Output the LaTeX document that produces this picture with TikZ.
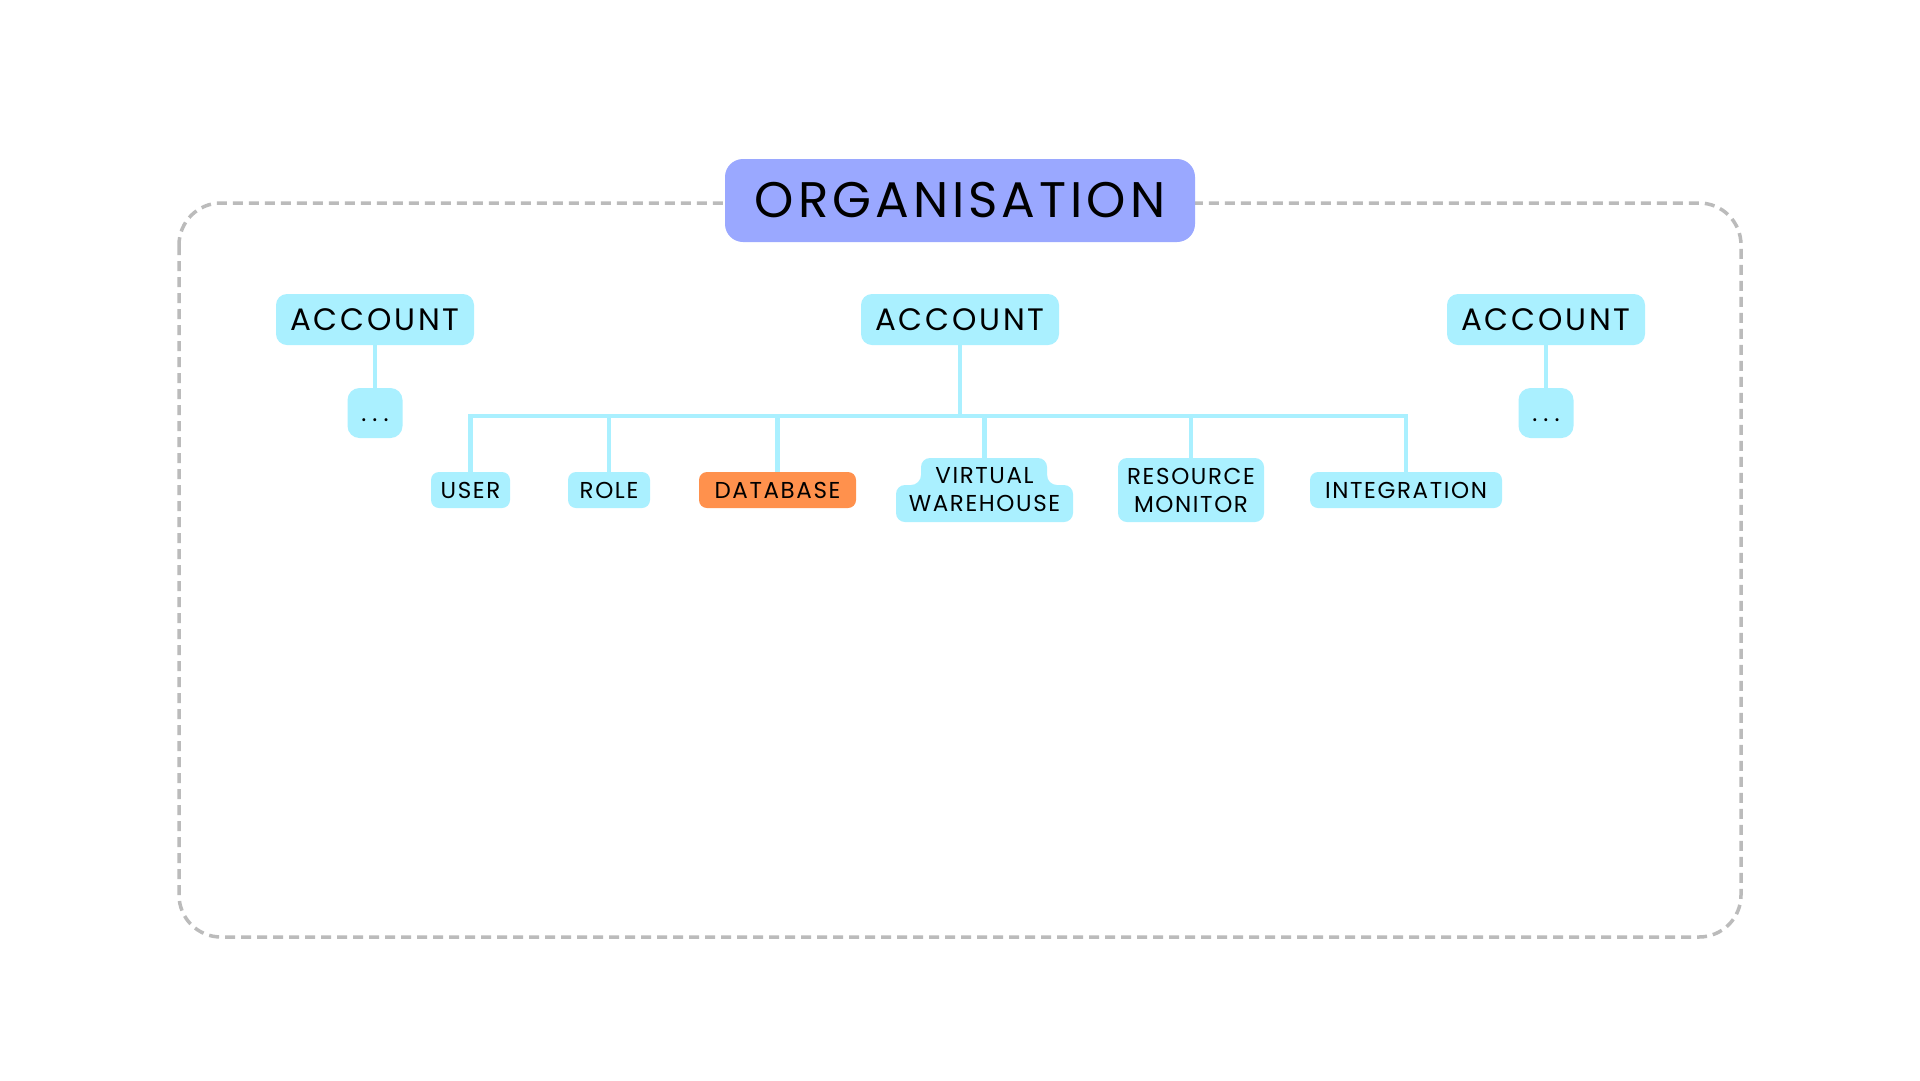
\documentclass[tikz,border=0pt]{standalone}
\usepackage{fontspec}
\setmainfont{Poppins}
\newfontfamily\orgfont[LetterSpace=8]{Poppins}
\newfontfamily\accfont[LetterSpace=9]{Poppins}
\newfontfamily\kidfont[LetterSpace=7]{Poppins}
\definecolor{cyanfill}{HTML}{AAF0FF}
\definecolor{orgfill}{HTML}{9AA8FF}
\definecolor{dbfill}{HTML}{FF914D}
\definecolor{dashgray}{HTML}{BBBBBB}
\tikzset{
  orgbox/.style={fill=orgfill, rounded corners=18pt, inner sep=0pt, minimum width=470pt, minimum height=83pt, font=\orgfont\fontsize{50}{60}\selectfont},
  accbox/.style={fill=cyanfill, rounded corners=11pt, inner sep=0pt, minimum width=198pt, minimum height=51pt, font=\accfont\fontsize{31}{37}\selectfont},
  dotbox/.style={fill=cyanfill, rounded corners=12pt, inner sep=0pt, minimum width=55pt, minimum height=50pt, text height=17pt, text depth=0pt, font=\kidfont\fontsize{24}{28}\selectfont},
  kidbox/.style={fill=cyanfill, rounded corners=8pt, inner sep=0pt, minimum height=36pt, font=\kidfont\fontsize{23}{28}\selectfont},
  kidtwo/.style={inner sep=0pt, minimum height=64pt, align=center, font=\kidfont\fontsize{23}{28}\selectfont},
  link/.style={draw=cyanfill, line width=4.5pt},
  frame/.style={draw=dashgray, line width=3.5pt, dash pattern=on 10pt off 6pt, rounded corners=42pt}
}
\begin{document}
\begin{tikzpicture}[x=1pt,y=-1pt]
\useasboundingbox (0,0) rectangle (1920,1080);
\fill[white] (0,0) rectangle (1920,1080);
% container
\draw[frame] (179,203) rectangle (1741,937);
% organisation
\node[orgbox] (org) at (960,200.5) {ORGANISATION};
% accounts
\node[accbox] (accL) at (375,319.5) {ACCOUNT};
\node[accbox] (accC) at (960,319.5) {ACCOUNT};
\node[accbox] (accR) at (1546,319.5) {ACCOUNT};
\node[dotbox] (dotL) at (375,413) {.\hspace{6pt}.\hspace{6pt}.};
\node[dotbox] (dotR) at (1546,413) {.\hspace{6pt}.\hspace{6pt}.};
% children
\node[kidbox, minimum width=79pt] (user) at (470.5,490) {USER};
\node[kidbox, minimum width=82pt] (role) at (609,490) {ROLE};
\node[kidbox, fill=dbfill, minimum width=157pt] (db) at (777.5,490) {DATABASE};
% virtual warehouse background
\fill[cyanfill, rounded corners=9pt] (921,458) rectangle (1047,500);
\fill[cyanfill, rounded corners=9pt] (896,485) rectangle (1073,522);
\fill[cyanfill] (921,485) -- (911,485) .. controls (916.5,485) and (921,480.5) .. (921,475) -- cycle;
\fill[cyanfill] (1047,485) -- (1057,485) .. controls (1051.5,485) and (1047,480.5) .. (1047,475) -- cycle;
\node[kidtwo, minimum width=177pt] (vw) at (984.5,490) {VIRTUAL\\WAREHOUSE};
\node[kidtwo, fill=cyanfill, rounded corners=9pt, minimum width=146pt] (rm) at (1191,490) {RESOURCE\\MONITOR};
\node[kidbox, minimum width=192pt] (int) at (1406,490) {INTEGRATION};
% connectors
\coordinate (bar) at (960,416);
\draw[link] (accL.south) -- (dotL.north);
\draw[link] (accR.south) -- (dotR.north);
\draw[link] (accC.south) -- (bar);
\draw[link, line cap=rect] (bar -| user.north) -- (bar -| int.north);
\draw[link] (bar -| user.north) -- (user.north);
\draw[link] (bar -| role.north) -- (role.north);
\draw[link] (bar -| db.north) -- (db.north);
\draw[link] (bar -| vw.north) -- (vw.north);
\draw[link] (bar -| rm.north) -- (rm.north);
\draw[link] (bar -| int.north) -- (int.north);
\end{tikzpicture}
\end{document}
